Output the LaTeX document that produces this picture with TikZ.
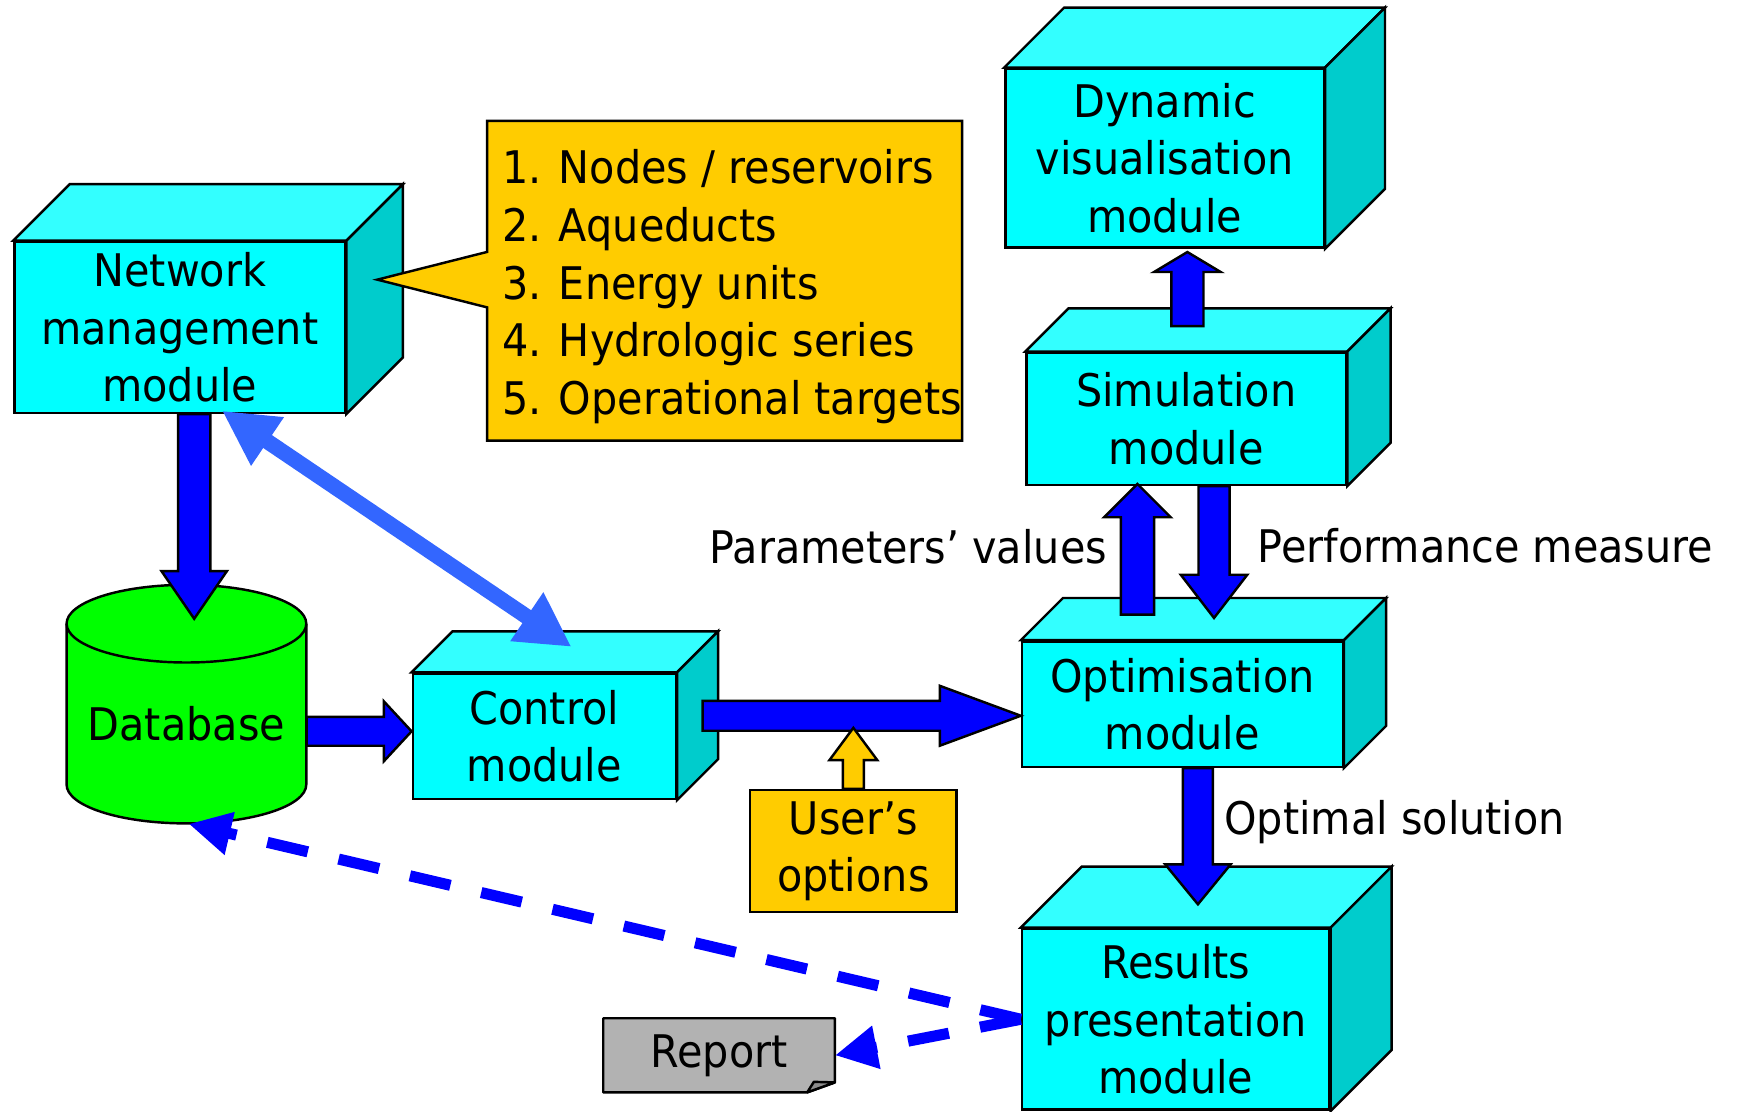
\documentclass[tikz,border=0pt]{standalone}
\usepackage{fontspec}
\setmainfont{DejaVu Sans}[FakeStretch=0.92]
\usetikzlibrary{calc,arrows.meta,backgrounds}

\definecolor{cyanfront}{HTML}{00FFFF}
\definecolor{cyantop}{HTML}{33FFFF}
\definecolor{cyanside}{HTML}{00CCCC}
\definecolor{arrowblue}{HTML}{0000FF}
\definecolor{linkblue}{HTML}{3366FF}
\definecolor{noteyellow}{HTML}{FFCC00}
\definecolor{dbgreen}{HTML}{00FF00}
\definecolor{reportgray}{HTML}{B2B2B2}
\definecolor{foldgray}{HTML}{8C8C8C}

\newcommand\dfont{\fontsize{20.25}{26}\selectfont}

\tikzset{
  outline/.style={draw=black, line width=1.1pt},
  modfront/.style={outline, fill=cyanfront, inner sep=0pt, align=center, font=\dfont},
  modtop/.style={outline, fill=cyantop},
  modside/.style={outline, fill=cyanside},
  barrow/.style={outline, fill=arrowblue},
  yarrow/.style={outline, fill=noteyellow},
  notebox/.style={outline, fill=noteyellow},
  linkarrow/.style={draw=linkblue, line width=7pt,
    {Triangle[length=24.8pt,width=24.6pt]}-{Triangle[length=24.3pt,width=24.8pt]}},
  dasharrow/.style={draw=arrowblue, line width=5pt, dash pattern=on 18.75pt off 14.25pt,
    -{Triangle[length=19pt,width=18.5pt]}},
  plainlabel/.style={inner sep=0pt, font=\dfont},
}

% 3-D module box: name, centre, width, height, depth, text
\newcommand\modbox[6]{%
  \node[modfront, minimum width=#3, minimum height=#4] (#1) at #2 {#6};
  \draw[modtop] (#1.north west) -- ++(#5,-#5) -- ($(#1.north east)+(#5,-#5)$) -- (#1.north east) -- cycle;
  \draw[modside] (#1.north east) -- ++(#5,-#5) -- ($(#1.south east)+(#5,-#5)$) -- (#1.south east) -- cycle;
}

% block arrow: style, tail, tip, shaft half width, head half width, head length
\newcommand\blockarrow[6]{%
  \coordinate (ba-t) at #2;
  \coordinate (ba-h) at #3;
  \coordinate (ba-b) at ($(ba-h)!#6!(ba-t)$);
  \draw[#1] ($(ba-t)!#4!90:(ba-h)$) -- ($(ba-b)!#4!90:(ba-h)$) -- ($(ba-b)!#5!90:(ba-h)$)
    -- (ba-h) -- ($(ba-b)!#5!-90:(ba-h)$) -- ($(ba-b)!#4!-90:(ba-h)$) -- ($(ba-t)!#4!-90:(ba-h)$) -- cycle;
}

\begin{document}
\begin{tikzpicture}[x=0.5pt, y=-0.5pt, font=\dfont]
\useasboundingbox (0,0) rectangle (1568,1002);

% modules
\modbox{net}{(162,295)}{149pt}{77pt}{51}{Network\\management\\module}
\modbox{dyn}{(1049.5,142.5)}{143.5pt}{80.5pt}{54}{Dynamic\\visualisation\\module}
\modbox{sim}{(1069,377.5)}{144pt}{59.5pt}{39}{Simulation\\module}
\modbox{opt}{(1065.5,634.5)}{144.5pt}{56.5pt}{38}{Optimisation\\module}
\modbox{ctl}{(490.5,663.5)}{118.5pt}{56.5pt}{37}{Control\\module}
\modbox{res}{(1059.5,918.5)}{138.5pt}{81.5pt}{55}{Results\\presentation\\module}

% database cylinder
\node[minimum width=108pt, minimum height=107.5pt, inner sep=0pt] (db) at (168,634.5) {};
\begin{scope}[on background layer]
  \draw[outline, fill=dbgreen] (60,562) -- (60,707)
    arc[start angle=180, end angle=360, x radius=54pt, y radius=17.5pt] -- (276,562)
    arc[start angle=0, end angle=180, x radius=54pt, y radius=17.5pt] -- cycle;
  \draw[outline] (60,562) arc[start angle=180, end angle=360, x radius=54pt, y radius=17.5pt];
\end{scope}
\node[plainlabel, anchor=base] (dblabel) at (168,667) {Database};

% data list callout
\coordinate (calltip) at (340,252);
\draw[notebox] (439,109) -- (867,109) -- (867,397) -- (439,397) -- (439,277) -- (calltip) -- (439,227) -- cycle;
\node[inner sep=0pt, anchor=west, align=left] (list) at (452,258.5)
  {1. Nodes / reservoirs\\2. Aqueducts\\3. Energy units\\4. Hydrologic series\\5. Operational targets};

% user's options
\node[notebox, minimum width=93pt, minimum height=55pt, inner sep=0pt, align=center] (usr) at (769,767) {User’s\\options};

% report sheet with folded corner
\node[inner sep=0pt, minimum width=104pt, minimum height=33pt] (rep) at (648,951) {Report};
\begin{scope}[on background layer]
  \draw[outline, fill=reportgray, line join=bevel] (rep.north west) -- (rep.north east) -- ($(rep.south east)+(0,-9)$)
    -- ($(rep.south east)+(-25,0)$) -- (rep.south west) -- cycle;
  \draw[outline, fill=foldgray, line join=bevel] ($(rep.south east)+(-25,0)$) -- ($(rep.south east)+(-19,-9.5)$)
    -- ($(rep.south east)+(0,-9)$) -- cycle;
\end{scope}

% data flow arrows
\blockarrow{barrow}{($(net.south)+(13,0)$)}{($(db.north)+(7,31)$)}{7.25pt}{14.75pt}{21.5pt}
\blockarrow{barrow}{($(db.east)+(0,24.5)$)}{($(ctl.west)+(0,-4.5)$)}{6.5pt}{13.5pt}{12.5pt}
\blockarrow{barrow}{($(ctl.east)+(23,-18.5)$)}{($(opt.west)+(0,10.5)$)}{6.75pt}{13.5pt}{36.5pt}
\blockarrow{yarrow}{(usr.north)}{($(usr.north)+(0,-55)$)}{4.75pt}{10.75pt}{14.5pt}
\blockarrow{barrow}{($(sim.north)+(1,-23)$)}{($(dyn.south)+(20.5,3)$)}{7.25pt}{15pt}{9pt}
\blockarrow{barrow}{($(opt.north)+(-40.5,-23)$)}{($(sim.south)+(-44,-2)$)}{7.5pt}{15pt}{15pt}
\blockarrow{barrow}{($(sim.south)+(25,0)$)}{($(opt.north)+(28.5,-20)$)}{7pt}{15pt}{19.5pt}
\blockarrow{barrow}{($(opt.south)+(14,0)$)}{($(res.north)+(20,-21)$)}{6.75pt}{14.75pt}{18pt}

% two-way link between network management and control
\draw[linkarrow] ($(net.south)+(38,-3)$) -- ($(ctl.north)+(24.5,-23)$);

% results feedback
\draw[dasharrow] (res.west) -- ($(db.south)+(2,0)$);
\draw[dasharrow] (res.west) -- (rep.east);

% flow labels
\node[plainlabel, anchor=base east] (plab) at (998,508) {Parameters’ values};
\node[plainlabel, anchor=base west] (pmlab) at (1133,507) {Performance measure};
\node[plainlabel, anchor=base west] (oslab) at (1103,752) {Optimal solution};
\end{tikzpicture}
\end{document}
